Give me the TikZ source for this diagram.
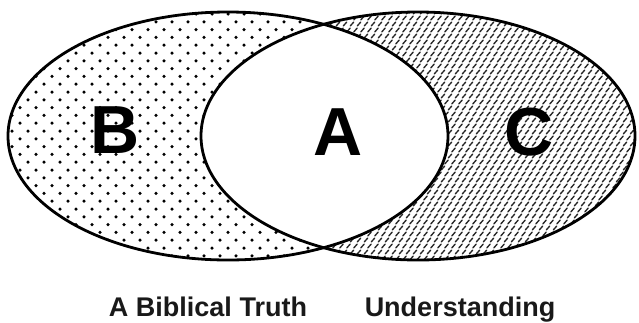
\documentclass[tikz,border=0pt]{standalone}
\usepackage{fontspec}
\setmainfont{Liberation Sans}
\begin{document}
\begin{tikzpicture}[x=1pt,y=-1pt,
  outline/.style={draw=black,line width=2.8pt},
  bigletter/.style={font=\bfseries\fontsize{68}{72}\selectfont,anchor=base,inner sep=0pt},
  caption/.style={font=\bfseries\fontsize{27}{30}\selectfont,anchor=base,inner sep=0pt,text=black!90},
  hatch/.style={line width=1.35pt,black!85,line cap=round}]
\useasboundingbox (0,0) rectangle (639,322);
\fill[white] (0,0) rectangle (639,322);
% dots in left ellipse
\begin{scope}
  \clip (228,136) ellipse [x radius=220pt, y radius=124pt];
  \foreach \j in {0,...,33} {
    \foreach \i in {0,...,28} {
      \fill[black] ({4+\i*16+8*mod(\j,2)},{14+\j*7.8}) circle (1.75pt);
    }
  }
\end{scope}
% hatching in right ellipse
\begin{scope}
  \clip (418,136) ellipse [x radius=217pt, y radius=124pt];
  \foreach \j in {0,...,42} {
    \foreach \i in {0,...,63} {
      \draw[hatch] ({198+\i*7+3.5*mod(\j,2)-1.6},{12+\j*6+1.8}) -- ++(3.2,-3.6);
    }
  }
\end{scope}
% intersection white
\begin{scope}
  \clip (228,136) ellipse [x radius=220pt, y radius=124pt];
  \fill[white] (418,136) ellipse [x radius=217pt, y radius=124pt];
\end{scope}
\draw[outline] (228,136) ellipse [x radius=220pt, y radius=124pt];
\draw[outline] (418,136) ellipse [x radius=217pt, y radius=124pt];
\node[bigletter] (b) at (115,153) {B};
\node[bigletter] (a) at (338,155) {A};
\node[bigletter] (c) at (529,155) {C};
\node[caption] (truth) at (208,316) {A Biblical Truth};
\node[caption] (under) at (460,316) {Understanding};
\end{tikzpicture}
\end{document}
